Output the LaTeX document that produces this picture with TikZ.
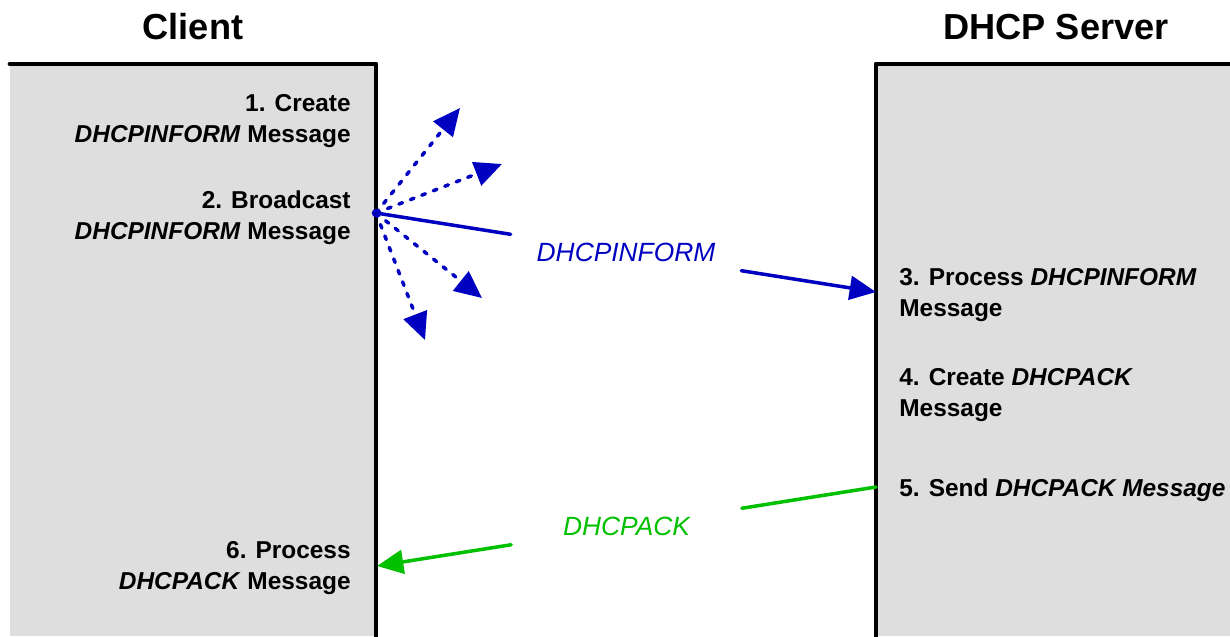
\documentclass[tikz,border=0pt]{standalone}
\usepackage{fontspec}
\setmainfont{Liberation Sans}
\usetikzlibrary{arrows.meta}

\definecolor{boxgray}{RGB}{222,222,222}
\definecolor{informblue}{RGB}{0,0,192}
\definecolor{ackgreen}{RGB}{0,192,0}

\begin{document}
\begin{tikzpicture}[x=0.02cm, y=-0.02cm, line cap=round, line join=round]
  \tikzset{
    headtext/.style={font=\bfseries\fontsize{20.6}{24}\selectfont, inner sep=0pt},
    steptext/.style={font=\bfseries\fontsize{13.9}{17.6}\selectfont, inner sep=0pt},
    msgtext/.style={font=\itshape\fontsize{15}{18}\selectfont,
      inner sep=0pt, minimum width=4.6cm, minimum height=1.2cm},
    wall/.style={line width=2.8pt},
    msgline/.style={line width=2pt},
    tip/.style={-{Triangle[length=15pt,width=13.5pt]}},
    bcast/.style={informblue, line width=2pt, dash pattern=on 2.2pt off 4.8pt,
      -{Triangle[length=15.5pt,width=14pt]}}
  }

  \useasboundingbox (0,0) rectangle (1230,636);

  % Client and server columns
  \fill[boxgray] (10,64) rectangle (376,636);
  \fill[boxgray] (876,64) rectangle (1230,636);
  \draw[wall] (10,64) -- (376,64) -- (376,636);
  \draw[wall] (876,636) -- (876,64) -- (1230,64);

  \node[headtext] (client) at (193,27) {Client};
  \node[headtext] (server) at (1056,27) {DHCP Server};

  % Client steps
  \node[steptext, anchor=east, align=right] (s1) at (351,121)
    {1. Create\\\textit{DHCPINFORM} Message};
  \node[steptext, anchor=east, align=right] (s2) at (351,218)
    {2. Broadcast\\\textit{DHCPINFORM} Message};
  \node[steptext, anchor=east, align=right] (s6) at (351,568)
    {6. Process\\\textit{DHCPACK} Message};

  % Server steps
  \node[steptext, anchor=west, align=left] (s3) at (899,295.5)
    {3. Process \textit{DHCPINFORM}\\Message};
  \node[steptext, anchor=west, align=left] (s4) at (899,395.5)
    {4. Create \textit{DHCPACK}\\Message};
  \node[steptext, anchor=west] (s5) at (899,490)
    {5. Send \textit{DHCPACK Message}};

  % Message end points
  \coordinate (bc) at (376,213);
  \coordinate (rx) at (876,292);
  \coordinate (tx) at (876,487);
  \coordinate (ack) at (377,566);
  \coordinate (d1) at (460,108);
  \coordinate (d2) at (502,164);
  \coordinate (d3) at (482,298);
  \coordinate (d4) at (425,340);

  % Broadcast
  \foreach \t in {d1,d2,d3,d4}
    \draw[bcast] (bc) -- (\t);
  \fill[informblue] (bc) circle[radius=2.4pt];
  \path (bc) -- node[msgtext, text=informblue] (inform) {DHCPINFORM} (rx);
  \draw[msgline, informblue] (bc) -- (inform);
  \draw[msgline, informblue, tip] (inform) -- (rx);

  % Reply
  \path (tx) -- node[msgtext, text=ackgreen] (dhcpack) {DHCPACK} (ack);
  \draw[msgline, ackgreen] (tx) -- (dhcpack);
  \draw[msgline, ackgreen, tip] (dhcpack) -- (ack);

\end{tikzpicture}
\end{document}
